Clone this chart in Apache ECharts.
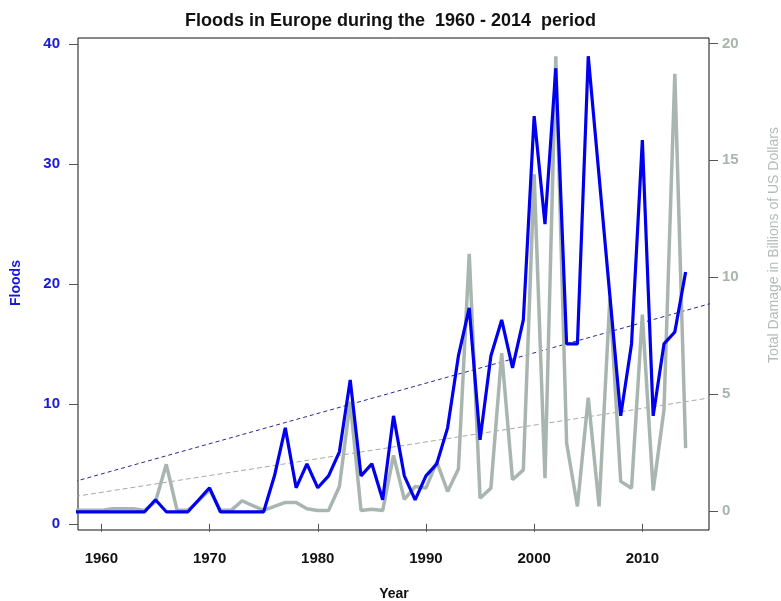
<!DOCTYPE html>
<html>
<head>
<meta charset="utf-8">
<script src="https://cdn.jsdelivr.net/npm/echarts@6/dist/echarts.min.js"></script>
<style>
html,body{margin:0;padding:0;background:#fff;}
#chart{width:781px;height:601px;}
</style>
</head>
<body>
<div id="chart"></div>
<script>
// ---- data ----
const years = [1957,1958,1959,1960,1961,1962,1963,1964,1965,1966,1967,1968,1969,1970,1971,1972,1973,1974,1975,1976,1977,1978,1979,1980,1981,1982,1983,1984,1985,1986,1987,1988,1989,1990,1991,1992,1993,1994,1995,1996,1997,1998,1999,2000,2001,2002,2003,2004,2005,2006,2007,2008,2009,2010,2011,2012,2013,2014];
const floods = [1,1,1,1,1,1,1,1,2,1,1,1,2,3,1,1,1,1,1,4,8,3,5,3,4,6,12,4,5,2,9,4,2,4,5,8,14,18,7,14,17,13,17,34,25,38,15,15,39,29,19,9,15,32,9,15,16,21];
const damage = [0.03,0.03,0.03,0.03,0.1,0.1,0.1,0.03,0.4,2.0,0.03,0.03,0.45,0.9,0.03,0.03,0.44,0.23,0.03,0.2,0.37,0.37,0.1,0.02,0.02,1.05,4.68,0.02,0.08,0.02,2.38,0.5,1.05,0.98,2.1,0.84,1.8,11.0,0.55,0.98,6.75,1.34,1.76,14.4,1.41,19.45,2.9,0.2,4.85,0.2,9.1,1.27,0.98,8.4,0.88,4.33,18.7,2.69];
const trendYears = [1960, 2014];
const floodsTrend = [4.15, 17.79];
const damageTrend = [0.8, 4.68];
const xTicks = [1960,1970,1980,1990,2000,2010];
const floodTicks = [0,10,20,30,40];
const damageTicks = [0,5,10,15,20];

const xMin = 1957.84, xMax = 2016.16;
const FONT = 'Liberation Sans, Arial, sans-serif';
const BLUE = '#0000ee';
const GRAY = '#a9b6af';

function extend(tr) {
  const s = (tr[1]-tr[0])/(trendYears[1]-trendYears[0]);
  return [[xMin-1, tr[0]+s*(xMin-1-trendYears[0])],[xMax+1, tr[0]+s*(xMax+1-trendYears[0])]];
}

const chart = echarts.init(document.getElementById('chart'), null, {renderer:'canvas'});
chart.setOption({
  animation:false,
  backgroundColor:'#fff',
  title:{
    text:'Floods in Europe during the  1960 - 2014  period',
    left:180, top:7,
    textStyle:{fontFamily:FONT, fontSize:18, fontWeight:'bold', color:'#111'}
  },
  grid:{left:78, right:72, top:38, bottom:71, show:true, borderColor:'#111', borderWidth:1, backgroundColor:'transparent'},
  xAxis:{
    type:'value', min:xMin, max:xMax,
    axisLine:{show:false},
    splitLine:{show:false},
    axisTick:{show:true, customValues:xTicks, length:8, lineStyle:{color:'#555'}},
    axisLabel:{customValues:xTicks, formatter:v=>String(v), fontFamily:FONT, fontSize:15, fontWeight:'bold', color:'#111', margin:21}
  },
  yAxis:[{
    type:'value', min:-0.52, max:40.52, position:'left',
    axisLine:{show:false}, splitLine:{show:false},
    axisTick:{show:true, customValues:floodTicks, length:9, lineStyle:{color:'#555'}},
    axisLabel:{customValues:floodTicks, formatter:v=>String(v), fontFamily:FONT, fontSize:15, fontWeight:'bold', color:'#1818d8', margin:18}
  },{
    type:'value', min:-0.81, max:20.23, position:'right',
    axisLine:{show:false}, splitLine:{show:false},
    axisTick:{show:true, customValues:damageTicks, length:9, lineStyle:{color:'#555'}},
    axisLabel:{customValues:damageTicks, formatter:v=>String(v), fontFamily:FONT, fontSize:15, fontWeight:'bold', color:'#a9b4ad', margin:13}
  }],
  series:[{
    name:'Damage trend', type:'line', yAxisIndex:1, silent:true, symbol:'none',
    data:extend(damageTrend),
    lineStyle:{color:'#a8a8a8', width:1, type:[5,3]}
  },{
    name:'Floods trend', type:'line', yAxisIndex:0, silent:true, symbol:'none',
    data:extend(floodsTrend),
    lineStyle:{color:'#2a2a90', width:1, type:[4,3]}
  },{
    name:'Total Damage', type:'line', yAxisIndex:1, symbol:'none',
    data:years.map((y,i)=>[y, damage[i]]),
    lineStyle:{color:GRAY, width:3.5}
  },{
    name:'Floods', type:'line', yAxisIndex:0, symbol:'none',
    data:years.map((y,i)=>[y, floods[i]]),
    lineStyle:{color:BLUE, width:3.2}
  }],
  graphic:[{
    type:'text', x:16, y:283, rotation:Math.PI/2,
    style:{text:'Floods', font:'bold 14px '+FONT, fill:'#1818d8', textAlign:'center', verticalAlign:'middle'}
  },{
    type:'text', x:394, y:594,
    style:{text:'Year', font:'bold 14px '+FONT, fill:'#111', textAlign:'center', verticalAlign:'middle'}
  },{
    type:'text', x:774, y:245, rotation:Math.PI/2,
    style:{text:'Total Damage in Billions of US Dollars', font:'14px '+FONT, fill:'#b2bcb6', textAlign:'center', verticalAlign:'middle'}
  }]
});
</script>
</body>
</html>
